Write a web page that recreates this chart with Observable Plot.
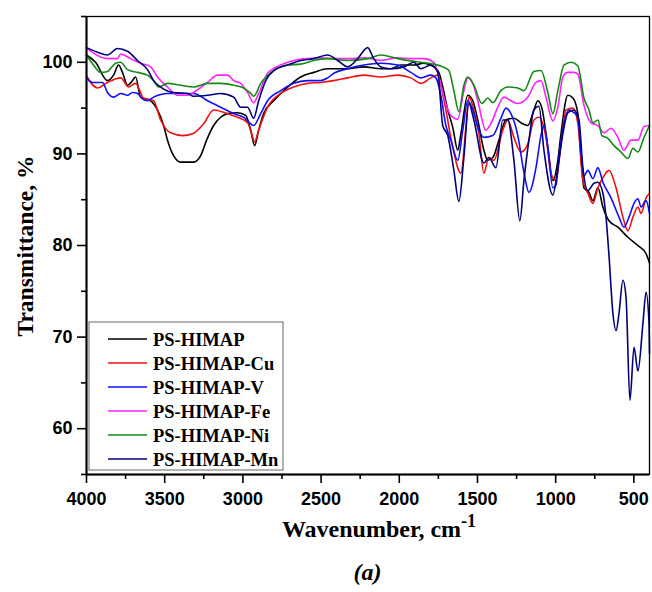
<!DOCTYPE html>
<html><head><meta charset="utf-8">
<script src="https://cdn.jsdelivr.net/npm/d3@7"></script>
<script src="https://cdn.jsdelivr.net/npm/@observablehq/plot@0.6"></script>
<style>
body{margin:0;background:#fff;}
#chart{width:652px;}
#cap{width:652px;box-sizing:border-box;padding-left:86px;padding-right:3px;text-align:center;font-family:"Liberation Serif","Times New Roman",serif;font-weight:bold;font-style:italic;font-size:24px;line-height:30px;margin-top:9px;color:#000;}
</style></head><body>
<div id="chart"></div>
<div id="cap">(a)</div>
<script>
const seriesNames = ["PS-HIMAP","PS-HIMAP-Cu","PS-HIMAP-V","PS-HIMAP-Fe","PS-HIMAP-Ni","PS-HIMAP-Mn"];
const seriesColors = ["#000000","#ee1111","#1010ff","#ff22ff","#168a16","#00007a"];
const xMajorTicks = [4000,3500,3000,2500,2000,1500,1000,500];
const xMinorTicks = [3750,3250,2750,2250,1750,1250,750];
const yMajorTicks = [60,70,80,90,100];
const yMinorTicks = [55,65,75,85,95,105];

// [wavenumber cm-1, transmittance %]
const psHimap = [[4000,100.8],[3942,100.0],[3866,98.0],[3827,98.6],[3795,99.7],[3770,98.9],[3738,97.5],[3706,98.0],[3686,98.4],[3654,96.2],[3590,95.8],[3546,94.8],[3507,93.1],[3482,91.5],[3443,89.8],[3398,89.1],[3315,89.1],[3270,89.8],[3232,91.5],[3187,93.1],[3142,94.0],[3098,94.4],[3034,94.5],[2982,94.2],[2950,92.6],[2925,90.9],[2899,92.6],[2867,94.4],[2803,95.8],[2714,97.3],[2630,98.4],[2547,98.9],[2458,99.3],[2330,99.3],[2227,99.5],[2118,99.3],[2054,99.3],[1990,99.7],[1907,99.7],[1843,99.9],[1779,99.5],[1747,98.9],[1722,97.3],[1690,94.8],[1658,92.9],[1626,90.4],[1606,92.2],[1562,96.4],[1530,95.8],[1498,93.7],[1459,90.4],[1434,89.3],[1402,89.6],[1363,91.5],[1318,93.7],[1267,93.9],[1222,93.4],[1178,93.1],[1139,94.8],[1114,95.8],[1088,95.0],[1050,90.7],[1018,87.1],[986,89.3],[966,92.2],[922,96.4],[890,96.1],[858,94.4],[838,89.6],[819,86.3],[787,85.8],[762,84.9],[730,86.3],[698,84.2],[659,82.7],[602,82.0],[538,80.9],[474,80.0],[422,79.1],[400,78.1]];
const psHimapCu = [[4000,98.5],[3930,97.2],[3866,97.8],[3782,98.3],[3731,97.3],[3686,97.7],[3635,96.1],[3571,95.8],[3526,93.7],[3462,92.3],[3386,92.0],[3322,92.2],[3251,93.3],[3187,94.8],[3098,94.4],[3034,94.0],[2970,93.4],[2944,92.2],[2925,91.3],[2899,92.6],[2842,95.1],[2758,96.6],[2675,97.3],[2586,97.7],[2502,97.8],[2419,98.0],[2330,98.3],[2227,98.6],[2118,98.4],[2010,98.6],[1926,98.3],[1862,97.7],[1798,98.3],[1754,98.6],[1734,97.5],[1702,94.8],[1658,90.7],[1606,87.9],[1574,92.9],[1555,96.2],[1523,94.8],[1491,92.2],[1459,87.9],[1427,89.6],[1395,89.3],[1338,92.6],[1306,93.7],[1267,91.8],[1222,90.2],[1178,91.1],[1139,93.7],[1107,94.0],[1062,91.8],[1030,87.9],[998,87.1],[966,91.1],[934,94.8],[890,95.0],[858,93.3],[826,87.1],[794,85.7],[762,84.6],[730,86.3],[698,87.4],[659,88.2],[614,86.3],[570,83.1],[538,81.6],[506,83.1],[474,84.2],[454,83.5],[422,85.2],[400,85.7]];
const psHimapV = [[4000,98.3],[3962,97.8],[3898,97.8],[3866,96.7],[3827,96.2],[3782,96.6],[3738,96.4],[3706,96.7],[3674,96.6],[3642,96.0],[3610,95.8],[3571,96.2],[3482,96.6],[3398,96.6],[3315,96.6],[3226,95.8],[3142,95.1],[3059,94.4],[2995,94.0],[2931,93.1],[2886,94.4],[2842,95.8],[2758,96.9],[2675,97.7],[2586,98.0],[2502,98.0],[2458,98.3],[2419,98.8],[2330,99.3],[2227,99.7],[2118,99.9],[2010,99.7],[1926,98.9],[1862,98.3],[1798,98.6],[1766,98.3],[1734,96.4],[1702,93.1],[1670,91.5],[1626,89.3],[1594,92.6],[1562,95.8],[1530,94.8],[1498,92.9],[1459,91.8],[1402,92.0],[1350,93.9],[1318,95.0],[1286,94.4],[1242,92.0],[1203,88.0],[1171,85.8],[1126,88.5],[1094,92.0],[1075,93.1],[1050,90.7],[1018,86.3],[998,86.6],[979,89.6],[947,93.3],[915,94.8],[883,94.5],[858,94.0],[838,90.1],[819,87.6],[794,88.2],[762,87.3],[730,88.5],[698,86.9],[646,85.2],[595,83.1],[563,82.0],[531,83.1],[499,84.6],[474,85.1],[454,84.2],[422,84.9],[400,83.5]];
const psHimapFe = [[4000,101.6],[3955,101.0],[3866,100.4],[3802,100.4],[3782,100.9],[3718,100.4],[3654,99.9],[3590,99.5],[3546,98.4],[3482,97.3],[3418,96.4],[3354,96.4],[3290,97.0],[3226,97.8],[3162,98.6],[3098,98.6],[3059,98.0],[3014,97.7],[2970,96.7],[2931,95.6],[2899,96.6],[2842,98.8],[2758,99.7],[2675,100.2],[2586,100.4],[2502,100.5],[2419,100.4],[2330,100.4],[2227,100.5],[2118,100.2],[2010,100.5],[1926,100.4],[1843,100.4],[1779,100.0],[1747,98.4],[1715,96.2],[1670,94.2],[1626,93.8],[1587,96.9],[1562,98.3],[1530,97.7],[1498,95.8],[1447,92.6],[1414,93.3],[1370,95.1],[1331,96.2],[1286,95.8],[1242,95.5],[1178,96.2],[1126,97.8],[1094,98.0],[1062,96.2],[1018,93.6],[986,95.1],[954,98.4],[922,98.9],[883,98.9],[858,98.7],[819,95.3],[774,93.4],[730,93.1],[691,92.3],[646,92.8],[602,91.8],[563,90.4],[518,91.5],[474,91.5],[435,93.0],[400,93.1]];
const psHimapNi = [[4000,100.8],[3955,99.7],[3910,98.9],[3866,99.0],[3814,99.9],[3782,100.0],[3738,99.2],[3674,98.9],[3610,98.6],[3571,98.0],[3539,97.3],[3482,97.7],[3398,97.5],[3315,97.3],[3226,97.7],[3142,97.7],[3059,97.5],[2995,97.2],[2950,96.6],[2931,96.3],[2886,97.7],[2803,99.1],[2714,99.7],[2630,99.8],[2547,100.2],[2458,100.4],[2330,100.2],[2202,100.4],[2118,100.8],[2010,100.4],[1862,100.0],[1779,99.8],[1722,99.5],[1683,99.1],[1651,96.9],[1619,94.6],[1587,97.5],[1562,98.4],[1523,97.5],[1472,95.5],[1434,96.1],[1402,95.6],[1350,96.9],[1306,97.3],[1242,97.2],[1203,96.9],[1139,99.0],[1094,99.1],[1050,96.7],[1018,94.4],[986,96.9],[947,99.7],[902,100.0],[858,99.6],[819,96.1],[787,94.8],[762,93.4],[730,93.7],[704,92.0],[666,91.7],[627,90.9],[582,90.2],[538,89.5],[506,90.6],[474,90.2],[435,91.8],[400,93.1]];
const psHimapMn = [[4000,101.6],[3930,101.1],[3866,100.8],[3802,101.5],[3738,101.2],[3674,100.2],[3610,99.2],[3571,98.0],[3526,97.3],[3443,96.7],[3354,96.6],[3315,96.3],[3226,96.4],[3142,96.6],[3059,96.2],[3014,95.1],[2970,95.1],[2931,93.9],[2899,95.8],[2854,98.0],[2803,99.1],[2714,99.7],[2630,100.2],[2547,100.4],[2458,100.8],[2394,100.2],[2330,99.5],[2266,100.4],[2202,101.6],[2163,100.4],[2118,99.5],[2054,99.3],[1971,99.5],[1907,100.0],[1862,99.3],[1798,99.7],[1754,98.9],[1722,93.1],[1690,92.0],[1651,88.2],[1619,84.8],[1587,89.6],[1555,95.5],[1523,93.7],[1459,89.0],[1427,89.6],[1382,88.5],[1338,93.7],[1306,93.7],[1267,89.3],[1229,82.7],[1203,87.1],[1171,91.5],[1139,94.8],[1107,95.2],[1075,90.4],[1018,85.5],[986,88.5],[954,92.2],[922,94.5],[883,94.8],[851,93.7],[826,88.5],[794,86.0],[755,86.8],[730,86.9],[698,85.7],[678,83.1],[659,78.9],[634,72.6],[614,70.7],[595,72.6],[570,76.2],[550,74.3],[525,63.1],[499,68.9],[474,66.3],[442,71.5],[422,74.9],[403,71.5],[400,68.2]];

const seriesData = [psHimap, psHimapCu, psHimapV, psHimapFe, psHimapNi, psHimapMn];
const rows = seriesData.flatMap((pts, i) => pts.map(([w, t]) => ({series: seriesNames[i], w, t})));

const plot = Plot.plot({
  width: 652, height: 548,
  marginLeft: 86, marginRight: 3, marginTop: 16, marginBottom: 74,
  style: {fontFamily: "'Liberation Sans', Arial, sans-serif", fontSize: "18px", fontWeight: "bold", color: "#000", background: "#fff", overflow: "visible"},
  x: {domain: [4000, 400], label: null},
  y: {domain: [55, 105], label: null},
  color: {domain: seriesNames, range: seriesColors},
  marks: [
    Plot.line(rows, {x: "w", y: "t", z: "series", stroke: "series", strokeWidth: 1.6, curve: "monotone-x"}),
    Plot.frame({stroke: "#000", strokeWidth: 1.3}),
    Plot.ruleX([4000], {stroke: "#000", strokeWidth: 2}),
    Plot.ruleY([55], {stroke: "#000", strokeWidth: 2}),
    Plot.axisX(xMajorTicks, {tickSize: 9, tickPadding: 9, strokeWidth: 1.6, tickFormat: d => String(d), label: null, fontSize: 18, fontWeight: "bold"}),
    Plot.axisX(xMinorTicks, {tickSize: 5, strokeWidth: 1.6, tickFormat: () => "", label: null}),
    Plot.axisY(yMajorTicks, {tickSize: 9, tickPadding: 5, strokeWidth: 1.6, tickFormat: d => String(d), label: null, fontSize: 18, fontWeight: "bold"}),
    Plot.axisY(yMinorTicks, {tickSize: 5, strokeWidth: 1.6, tickFormat: () => "", label: null})
  ]
});
document.getElementById("chart").appendChild(plot);

const svg = d3.select(plot);
const serif = "'Liberation Serif', 'Times New Roman', serif";
svg.append("text")
  .attr("transform", "translate(33,246) rotate(-90)")
  .attr("text-anchor", "middle")
  .style("font-family", serif).style("font-size", "23.5px").style("font-weight", "bold").attr("fill", "#000")
  .text("Transmittance, %");
const xl = svg.append("text")
  .attr("x", 379).attr("y", 537)
  .attr("text-anchor", "middle")
  .style("font-family", serif).style("font-size", "24px").style("font-weight", "bold").attr("fill", "#000");
xl.append("tspan").text("Wavenumber, cm");
xl.append("tspan").attr("dy", -10).style("font-size", "18px").text("-1");

const lg = svg.append("g").attr("text-anchor", "start");
lg.append("rect").attr("x", 89).attr("y", 322).attr("width", 194).attr("height", 148)
  .attr("fill", "#fff").attr("stroke", "#808080").attr("stroke-width", 1.2);
seriesNames.forEach((name, i) => {
  const y = 339 + i * 24;
  lg.append("line").attr("x1", 108).attr("x2", 147).attr("y1", y).attr("y2", y)
    .attr("stroke", seriesColors[i]).attr("stroke-width", 1.6);
  lg.append("text").attr("x", 153).attr("y", y + 6.5).attr("text-anchor", "start")
    .style("font-family", serif).style("font-size", "18.5px").style("font-weight", "bold").attr("fill", "#000")
    .text(name);
});
</script></body></html>
